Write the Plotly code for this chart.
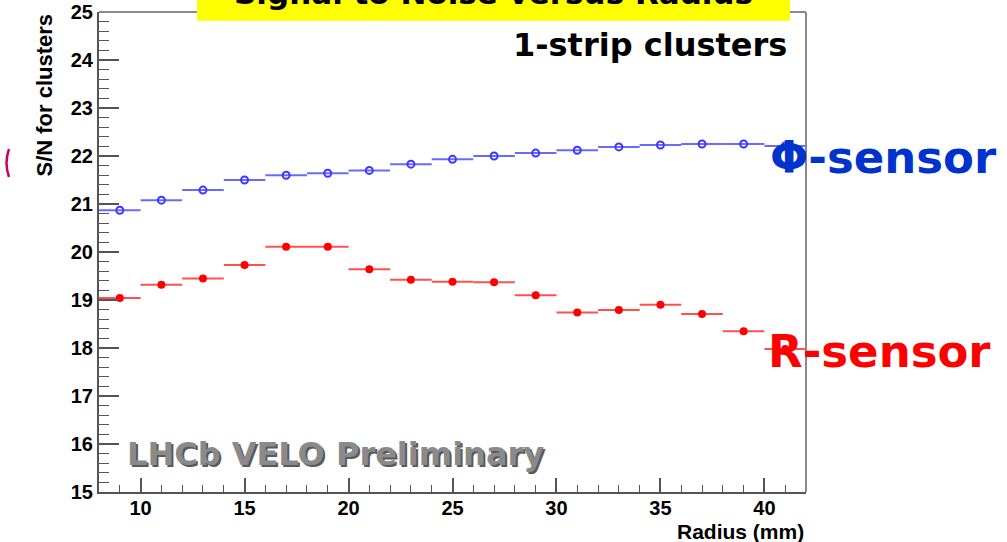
import plotly.graph_objects as go

# ---------------- data ----------------
radius_mm = [9, 11, 13, 15, 17, 19, 21, 23, 25, 27, 29, 31, 33, 35, 37, 39, 41]
phi_sensor_sn = [20.87, 21.08, 21.29, 21.50, 21.60, 21.64, 21.70, 21.83, 21.93,
                 22.00, 22.06, 22.12, 22.19, 22.23, 22.25, 22.25, 22.21]
r_sensor_sn = [19.04, 19.32, 19.45, 19.73, 20.11, 20.11, 19.64, 19.42, 19.38,
               19.37, 19.10, 18.74, 18.79, 18.90, 18.71, 18.35, 17.98]
bin_half_width = [1.0] * len(radius_mm)
x_tick_vals = [10, 15, 20, 25, 30, 35, 40]
y_tick_vals = [15, 16, 17, 18, 19, 20, 21, 22, 23, 24, 25]
x_range = [8, 42]
y_range = [15, 25]

# ---------------- layout geometry (pixels) ----------------
W, H = 1007, 542
L, R, T, B = 99, 806, 12, 492   # plot area edges in pixels


def px_x(px):
    return (px - L) / (R - L)


def px_y(py):
    return (B - py) / (B - T)


COMIC = "DejaVu Sans"
HELV = "Liberation Sans"

fig = go.Figure()

fig.add_trace(go.Scatter(
    x=radius_mm, y=phi_sensor_sn, mode="markers", name="Phi-sensor",
    marker=dict(symbol="circle-open", size=7, color="#3a3aff",
                line=dict(width=2, color="#3a3aff")),
    error_x=dict(type="data", array=bin_half_width, symmetric=True,
                 thickness=2, width=0, color="#6a6aff"),
    showlegend=False, cliponaxis=True,
))

fig.add_trace(go.Scatter(
    x=radius_mm, y=r_sensor_sn, mode="markers", name="R-sensor",
    marker=dict(symbol="circle", size=8, color="#ff0000"),
    error_x=dict(type="data", array=bin_half_width, symmetric=True,
                 thickness=2, width=0, color="#ff5050"),
    showlegend=False, cliponaxis=True,
))

axis_col = "#555555"
fig.update_xaxes(
    range=x_range, tickvals=x_tick_vals, ticks="inside", ticklen=14,
    tickwidth=1.5, tickcolor=axis_col, showgrid=False, zeroline=False,
    showline=True, linecolor=axis_col, linewidth=2, mirror=False,
    tickfont=dict(family=HELV, size=20, color="black", weight="bold"),
    ticklabelstandoff=-3,
    minor=dict(dtick=1, ticks="inside", ticklen=7, tickwidth=1.2,
               tickcolor=axis_col, showgrid=False),
    automargin=False, fixedrange=True,
)
fig.update_yaxes(
    range=y_range, tickvals=y_tick_vals, ticks="inside", ticklen=20,
    tickwidth=1.5, tickcolor=axis_col, showgrid=False, zeroline=False,
    showline=True, linecolor=axis_col, linewidth=2, mirror=False,
    tickfont=dict(family=HELV, size=20, color="black", weight="bold"),
    minor=dict(dtick=0.2, ticks="inside", ticklen=10, tickwidth=1.2,
               tickcolor=axis_col, showgrid=False),
    automargin=False, fixedrange=True,
)

shapes = [
    # top and right frame
    dict(type="line", xref="paper", yref="paper", x0=0, x1=1, y0=1, y1=1,
         line=dict(color="#8a8a8a", width=2), layer="above"),
    dict(type="line", xref="paper", yref="paper", x0=1, x1=1, y0=0, y1=1,
         line=dict(color="#8a8a8a", width=2), layer="above"),
    # yellow title box
    dict(type="rect", xref="paper", yref="paper",
         x0=px_x(197), x1=px_x(790), y0=px_y(20.7), y1=px_y(-10),
         fillcolor="#ffff00", line=dict(width=0), layer="above"),
    # small magenta arc at left edge
    dict(type="path", xref="paper", yref="paper",
         path="M %f,%f Q %f,%f %f,%f" % (px_x(9), px_y(149), px_x(4), px_y(163),
                                        px_x(9), px_y(177)),
         line=dict(color="#cc0066", width=2.5), layer="above"),
]

annotations = [
    dict(text="Signal to Noise versus Radius", xref="paper", yref="paper",
         x=px_x(493), y=px_y(-7), xanchor="center", yanchor="middle",
         showarrow=False, font=dict(family=COMIC, size=31, color="black", weight="bold")),
    dict(text="1-strip clusters", xref="paper", yref="paper",
         x=px_x(789), y=px_y(45), xanchor="right", yanchor="middle",
         showarrow=False, font=dict(family=COMIC, size=32, color="black", weight="bold")),
    dict(text="\u03a6-sensor", xref="paper", yref="paper",
         x=px_x(768), y=px_y(157), xanchor="left", yanchor="middle",
         showarrow=False, font=dict(family=COMIC, size=45, color="#0033cc", weight="bold")),
    dict(text="R-sensor", xref="paper", yref="paper",
         x=px_x(766), y=px_y(352), xanchor="left", yanchor="middle",
         showarrow=False, font=dict(family=COMIC, size=45, color="#ff0000", weight="bold")),
    # LHCb label with shadow
    dict(text="LHCb VELO Preliminary", xref="paper", yref="paper",
         x=px_x(126.5), y=px_y(455.5), xanchor="left", yanchor="middle",
         showarrow=False, font=dict(family=COMIC, size=32, color="#5a5a5a", weight="bold")),
    dict(text="LHCb VELO Preliminary", xref="paper", yref="paper",
         x=px_x(125), y=px_y(454), xanchor="left", yanchor="middle",
         showarrow=False, font=dict(family=COMIC, size=32, color="#8a8a8a", weight="bold")),
    # axis titles
    dict(text="S/N for clusters", xref="paper", yref="paper",
         x=px_x(44), y=px_y(12), xanchor="center", yanchor="top", textangle=-90,
         showarrow=False, font=dict(family=HELV, size=22, color="black", weight="bold")),
    dict(text="Radius (mm)", xref="paper", yref="paper",
         x=1, y=px_y(531), xanchor="right", yanchor="middle",
         showarrow=False, font=dict(family=HELV, size=21, color="black", weight="bold")),
]

fig.update_layout(
    width=W, height=H,
    margin=dict(l=L, r=W - R, t=T, b=H - B, pad=0),
    paper_bgcolor="white", plot_bgcolor="white",
    shapes=shapes, annotations=annotations,
    showlegend=False,
)

fig.write_html("out.html")
